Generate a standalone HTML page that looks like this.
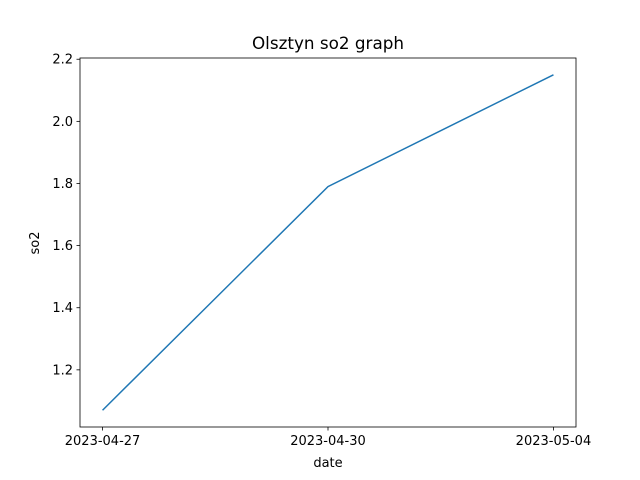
<!DOCTYPE html>
<html><head><meta charset="utf-8"><style>
body{margin:0;background:#fff;}
svg{display:block;font-family:"DejaVu Sans","Liberation Sans",sans-serif;}
</style></head><body>
<svg id="chart" width="640" height="480">
<rect width="640" height="480" fill="#fff"/>
<text x="328" y="49" font-size="16.8" text-anchor="middle">Olsztyn so2 graph</text>
<g id="axes"></g>
<text x="328" y="467" font-size="13" text-anchor="middle">date</text>
<text transform="translate(39,243) rotate(-90)" font-size="13" text-anchor="middle">so2</text>
</svg>
<script>
const categories=["2023-04-27","2023-04-30","2023-05-04"];
const values=[1.07,1.79,2.15];
const yTicks=[1.2,1.4,1.6,1.8,2.0,2.2];
const L=80,R=576,T=58,B=427;
const ns="http://www.w3.org/2000/svg";
const yMin=1.016,yMax=2.204;
const xS=i=>L+(i+0.1)/(categories.length-1+0.2)*(R-L);
const yS=v=>B-(v-yMin)/(yMax-yMin)*(B-T);
const g=document.getElementById('axes');
function mk(t,a){const e=document.createElementNS(ns,t);for(const k in a)e.setAttribute(k,a[k]);g.appendChild(e);return e;}
yTicks.forEach(v=>{
 const y=yS(v);
 const tk=mk('line',{x1:L-3.5,x2:L,y1:y,y2:y,stroke:'#000','stroke-width':0.8});
 
 
 const t=mk('text',{x:L-7,y:y+4.5,'font-size':13,'text-anchor':'end'});
 t.textContent=v.toFixed(1);
 
 
});
categories.forEach((c,i)=>{
 const x=xS(i);
 const tk=mk('line',{x1:x,x2:x,y1:B,y2:B+3.5,stroke:'#000','stroke-width':0.8});
 
 
 const t=mk('text',{x:x,y:B+18,'font-size':13,'text-anchor':'middle'});
 t.textContent=c;
 
 
});
const line=mk('polyline',{points:values.map((v,i)=>xS(i)+','+yS(v)).join(' '),fill:'none',stroke:'#1f77b4','stroke-width':1.5});


const fr=mk('rect',{x:L,y:T,width:R-L,height:B-T,fill:'none',stroke:'#000','stroke-width':0.8});


</script>
</body></html>
